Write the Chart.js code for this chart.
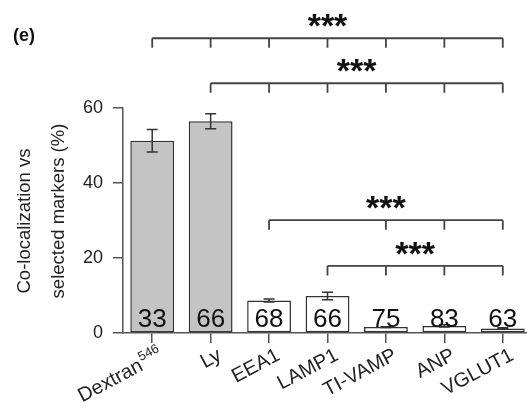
<!DOCTYPE html>
<html>
<head>
<meta charset="utf-8">
<script src="https://cdn.jsdelivr.net/npm/chart.js@4"></script>
<style>
  body { margin: 0; background: #fff; overflow: hidden; }
</style>
</head>
<body>
<canvas id="chart" width="532" height="416"></canvas>
<script>
'use strict';

// data
var labels = ['Dextran', 'Ly', 'EEA1', 'LAMP1', 'TI-VAMP', 'ANP', 'VGLUT1'];
var labelSup = ['546', '', '', '', '', '', ''];
var values = [51.3, 56.5, 8.7, 9.9, 1.6, 1.9, 1.2];
var errors = [3.0, 2.0, 0.4, 1.0, 0.1, 0.3, 0.2];
var counts = [33, 66, 68, 66, 75, 83, 63];
var yTicks = [0, 20, 40, 60];

// significance brackets (first bar, level in % units, bars with a tick)
var bracketFrom = [0, 1, 2, 3];
var bracketLevel = [78.6, 66.6, 30.1, 17.9];
var bracketTicks = [[0, 1, 2, 3, 4, 5, 6], [1, 2, 3, 4, 5, 6], [2, 4, 5, 6], [3, 4, 5, 6]];
var bracketText = ['***', '***', '***', '***'];

var FONT = '"Liberation Sans", Arial, sans-serif';
var fills = [];
for (var i = 0; i < values.length; i++) {
  fills.push(i < 2 ? '#c4c4c4' : '#ffffff');
}

var extras = {
  id: 'extras',
  afterDatasetsDraw: function(chart) {
    var ctx = chart.ctx;
    var x = chart.scales.x;
    var y = chart.scales.y;
    var axisY = y.getPixelForValue(0);
    ctx.save();

    // error bars
    ctx.strokeStyle = '#333';
    ctx.lineWidth = 1.5;
    for (var i = 0; i < values.length; i++) {
      var cx = x.getPixelForValue(i);
      var top = y.getPixelForValue(values[i] + errors[i]);
      var bot = y.getPixelForValue(values[i] - errors[i]);
      ctx.beginPath();
      ctx.moveTo(cx, top); ctx.lineTo(cx, bot);
      ctx.moveTo(cx - 5.5, top); ctx.lineTo(cx + 5.5, top);
      ctx.moveTo(cx - 5.5, bot); ctx.lineTo(cx + 5.5, bot);
      ctx.stroke();
    }

    // counts inside the bars
    ctx.fillStyle = '#111';
    ctx.font = '26px ' + FONT;
    ctx.textAlign = 'center';
    ctx.textBaseline = 'alphabetic';
    for (i = 0; i < counts.length; i++) {
      ctx.fillText(String(counts[i]), x.getPixelForValue(i), axisY - 6);
    }

    // brackets
    ctx.strokeStyle = '#444';
    ctx.lineWidth = 1.8;
    for (var b = 0; b < bracketFrom.length; b++) {
      var by = y.getPixelForValue(bracketLevel[b]);
      var x0 = x.getPixelForValue(bracketFrom[b]);
      var x1 = x.getPixelForValue(labels.length - 1);
      ctx.beginPath();
      ctx.moveTo(x0, by); ctx.lineTo(x1, by);
      bracketTicks[b].forEach(function(t) {
        var tx = x.getPixelForValue(t);
        ctx.moveTo(tx, by); ctx.lineTo(tx, by + 9.5);
      });
      ctx.stroke();
      ctx.font = 'bold 34px ' + FONT;
      ctx.fillStyle = '#111';
      ctx.fillText(bracketText[b], (x0 + x1) / 2, by - 1);
    }

    // rotated category labels
    ctx.fillStyle = '#222';
    ctx.textAlign = 'right';
    for (i = 0; i < labels.length; i++) {
      ctx.save();
      ctx.translate(x.getPixelForValue(i) + 12, axisY + 26);
      ctx.rotate(-28 * Math.PI / 180);
      var w = 0;
      if (labelSup[i]) {
        ctx.font = '13px ' + FONT;
        ctx.fillText(labelSup[i], 0, -9);
        w = ctx.measureText(labelSup[i]).width + 1;
      }
      ctx.font = '20px ' + FONT;
      ctx.fillText(labels[i], -w, 0);
      ctx.restore();
    }

    // y axis title, two lines
    ctx.font = '18.5px ' + FONT;
    ctx.textAlign = 'center';
    ctx.textBaseline = 'middle';
    ctx.save();
    ctx.translate(25, 221);
    ctx.rotate(-Math.PI / 2);
    ctx.fillText('Co-localization vs', 0, 0);
    ctx.restore();
    ctx.save();
    ctx.translate(59, 211);
    ctx.rotate(-Math.PI / 2);
    ctx.fillText('selected markers (%)', 0, 0);
    ctx.restore();

    // panel letter
    ctx.font = 'bold 18px ' + FONT;
    ctx.textAlign = 'left';
    ctx.textBaseline = 'alphabetic';
    ctx.fillStyle = '#111';
    ctx.fillText('(e)', 13, 41);

    ctx.restore();
  }
};

var ctx = document.getElementById('chart').getContext('2d');
var chart = new Chart(ctx, {
  type: 'bar',
  data: {
    labels: labels,
    datasets: [{
      data: values,
      backgroundColor: fills,
      borderColor: '#333',
      borderWidth: 1.5,
      borderSkipped: false,
      barPercentage: 0.75,
      categoryPercentage: 1
    }]
  },
  options: {
    responsive: false,
    animation: false,
    layout: { padding: { top: 108, left: 0, right: 0, bottom: 0 } },
    plugins: { legend: { display: false }, tooltip: { enabled: false } },
    scales: {
      x: {
        grid: { drawOnChartArea: false, offset: false, tickLength: 10, color: '#555', lineWidth: 1.5 },
        border: { color: '#555', width: 1.5 },
        ticks: { display: false },
        afterFit: function(scale) { scale.height = 83; }
      },
      y: {
        min: 0,
        max: 60,
        afterBuildTicks: function(scale) {
          scale.ticks = yTicks.map(function(v) { return { value: v }; });
        },
        grid: { drawOnChartArea: false, tickLength: 10, color: '#555', lineWidth: 1.5 },
        border: { color: '#555', width: 1.5 },
        ticks: { padding: 10, color: '#222', font: { family: FONT, size: 18 } },
        afterFit: function(scale) { scale.width = 123; }
      }
    }
  },
  plugins: [extras]
});
</script>
</body>
</html>
